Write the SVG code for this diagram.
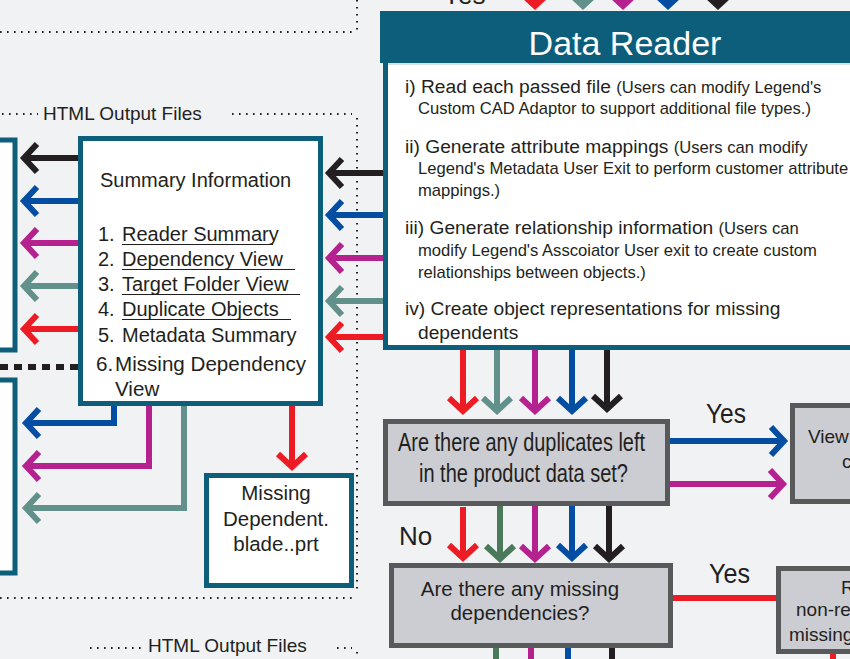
<svg xmlns="http://www.w3.org/2000/svg" width="850" height="659" viewBox="0 0 850 659">
<style>
text{font-family:"Liberation Sans",Arial,sans-serif;fill:#231f20}
.dot{fill:none;stroke:#231f20;stroke-width:2;stroke-dasharray:1.6 5.4}
.tbox{fill:#fff;stroke:#0d5e7b;stroke-width:5}
.gbox{fill:#cbcdd2;stroke:#58595b;stroke-width:5}
.ln{fill:none;stroke-width:6;stroke-linejoin:miter}
.r{stroke:#ed1c24}.t{stroke:#62918c}.m{stroke:#b5218f}.b{stroke:#034ea2}.k{stroke:#231f20}.g{stroke:#4a7a5a}
.big{font-size:19.2px}.sm{font-size:16.6px}
</style>
<defs>
<marker id="hr" markerUnits="userSpaceOnUse" orient="auto" markerWidth="40" markerHeight="40" refX="0" refY="0" viewBox="-20 -20 40 40" overflow="visible"><path d="M-13,-14 L0,0 L-13,14" fill="none" stroke="#ed1c24" stroke-width="6"/></marker>
<marker id="ht" markerUnits="userSpaceOnUse" orient="auto" markerWidth="40" markerHeight="40" refX="0" refY="0" viewBox="-20 -20 40 40" overflow="visible"><path d="M-13,-14 L0,0 L-13,14" fill="none" stroke="#62918c" stroke-width="6"/></marker>
<marker id="hm" markerUnits="userSpaceOnUse" orient="auto" markerWidth="40" markerHeight="40" refX="0" refY="0" viewBox="-20 -20 40 40" overflow="visible"><path d="M-13,-14 L0,0 L-13,14" fill="none" stroke="#b5218f" stroke-width="6"/></marker>
<marker id="hb" markerUnits="userSpaceOnUse" orient="auto" markerWidth="40" markerHeight="40" refX="0" refY="0" viewBox="-20 -20 40 40" overflow="visible"><path d="M-13,-14 L0,0 L-13,14" fill="none" stroke="#034ea2" stroke-width="6"/></marker>
<marker id="hk" markerUnits="userSpaceOnUse" orient="auto" markerWidth="40" markerHeight="40" refX="0" refY="0" viewBox="-20 -20 40 40" overflow="visible"><path d="M-13,-14 L0,0 L-13,14" fill="none" stroke="#231f20" stroke-width="6"/></marker>
<marker id="hg" markerUnits="userSpaceOnUse" orient="auto" markerWidth="40" markerHeight="40" refX="0" refY="0" viewBox="-20 -20 40 40" overflow="visible"><path d="M-13,-14 L0,0 L-13,14" fill="none" stroke="#4a7a5a" stroke-width="6"/></marker>
</defs>
<rect width="850" height="659" fill="#f1f2f4"/>

<g id="boundaries">
<path class="dot" d="M357,0 V30 M0,32 H355"/>
<path class="dot" d="M2,114 H38 M232,114 H352 M357,118 V590 M0,598 H355"/>
<path class="dot" d="M90,648 H145 M337,648 H352 M357,652 V659"/>
<text x="43" y="120" font-size="19">HTML Output Files</text>
<text x="148" y="652" font-size="19">HTML Output Files</text>
<text x="443" y="4" font-size="26">Yes</text>
</g>

<g id="connectors">
<line class="ln r" x1="535" y1="-40" x2="535" y2="6" marker-end="url(#hr)"/>
<line class="ln t" x1="583" y1="-40" x2="583" y2="6" marker-end="url(#ht)"/>
<line class="ln m" x1="623" y1="-40" x2="623" y2="6" marker-end="url(#hm)"/>
<line class="ln b" x1="668" y1="-40" x2="668" y2="6" marker-end="url(#hb)"/>
<line class="ln k" x1="718" y1="-40" x2="718" y2="6" marker-end="url(#hk)"/>
<line class="ln k" x1="386" y1="173" x2="329" y2="173" marker-end="url(#hk)"/>
<line class="ln b" x1="386" y1="215" x2="329" y2="215" marker-end="url(#hb)"/>
<line class="ln m" x1="386" y1="258" x2="329" y2="258" marker-end="url(#hm)"/>
<line class="ln t" x1="386" y1="301" x2="329" y2="301" marker-end="url(#ht)"/>
<line class="ln r" x1="386" y1="337" x2="329" y2="337" marker-end="url(#hr)"/>
<line class="ln k" x1="80" y1="158" x2="24" y2="158" marker-end="url(#hk)"/>
<line class="ln b" x1="80" y1="201" x2="24" y2="201" marker-end="url(#hb)"/>
<line class="ln m" x1="80" y1="243" x2="24" y2="243" marker-end="url(#hm)"/>
<line class="ln t" x1="80" y1="286" x2="24" y2="286" marker-end="url(#ht)"/>
<line class="ln r" x1="80" y1="329" x2="24" y2="329" marker-end="url(#hr)"/>
<line x1="0" y1="367" x2="78" y2="367" stroke="#231f20" stroke-width="6" stroke-dasharray="8 6"/>
<path class="ln b" d="M114,403 V423 H26" marker-end="url(#hb)"/>
<path class="ln m" d="M149,403 V466 H26" marker-end="url(#hm)"/>
<path class="ln t" d="M184,403 V508 H26" marker-end="url(#ht)"/>
<line class="ln r" x1="292" y1="403" x2="292" y2="467" marker-end="url(#hr)"/>
<line class="ln r" x1="463" y1="348" x2="463" y2="411" marker-end="url(#hr)"/>
<line class="ln t" x1="497" y1="348" x2="497" y2="411" marker-end="url(#ht)"/>
<line class="ln m" x1="535" y1="348" x2="535" y2="411" marker-end="url(#hm)"/>
<line class="ln b" x1="572" y1="348" x2="572" y2="411" marker-end="url(#hb)"/>
<line class="ln k" x1="607" y1="348" x2="607" y2="409" marker-end="url(#hk)"/>
<line class="ln b" x1="670" y1="441" x2="784" y2="441" marker-end="url(#hb)"/>
<line class="ln m" x1="670" y1="484" x2="783" y2="484" marker-end="url(#hm)"/>
<line class="ln r" x1="463" y1="507" x2="463" y2="558" marker-end="url(#hr)"/>
<line class="ln g" x1="500" y1="505" x2="500" y2="559" marker-end="url(#hg)"/>
<line class="ln m" x1="535" y1="505" x2="535" y2="559" marker-end="url(#hm)"/>
<line class="ln b" x1="572" y1="503" x2="572" y2="558" marker-end="url(#hb)"/>
<line class="ln k" x1="609" y1="505" x2="609" y2="559" marker-end="url(#hk)"/>
<line class="ln r" x1="673" y1="598" x2="778" y2="598"/>
<line class="ln g" x1="496" y1="648" x2="496" y2="665"/>
<line class="ln m" x1="531" y1="648" x2="531" y2="665"/>
<line class="ln b" x1="568" y1="648" x2="568" y2="665"/>
<line class="ln k" x1="612" y1="648" x2="612" y2="665"/>
<line class="ln r" x1="833" y1="654" x2="833" y2="665"/>
</g>

<g id="left-box-1"><rect class="tbox" x="-10" y="140" width="25" height="210"/></g>
<g id="left-box-2"><rect class="tbox" x="-10" y="380" width="25" height="193"/></g>

<g id="summary">
<rect class="tbox" x="80.5" y="138.5" width="240" height="265"/>
<text x="100" y="187" font-size="20">Summary Information</text>
<g font-size="20">
<text x="98" y="241">1.</text><text x="122" y="241">Reader Summary</text>
<text x="98" y="266">2.</text><text x="122" y="266">Dependency View</text>
<text x="98" y="291">3.</text><text x="122" y="291">Target Folder View</text>
<text x="98" y="316">4.</text><text x="122" y="316">Duplicate Objects</text>
<text x="98" y="342">5.</text><text x="122" y="342">Metadata Summary</text>
<text x="96" y="371" font-size="20.6">6.</text><text x="115" y="371" font-size="20.6">Missing Dependency</text>
<text x="115" y="396" font-size="20.6">View</text>
</g>
<path d="M122,244.5 H273 M122,269.5 H295 M122,294.5 H300 M122,319.5 H291" stroke="#231f20" stroke-width="1.2"/>
</g>

<g id="missing-dependent">
<rect class="tbox" x="206.5" y="475.5" width="145" height="110"/>
<g font-size="20.5" text-anchor="middle">
<text x="276" y="500">Missing</text>
<text x="276" y="526">Dependent.</text>
<text x="276" y="551">blade..prt</text>
</g>
</g>

<g id="data-reader">
<rect class="tbox" x="385.5" y="60" width="500" height="287.5"/>
<rect x="380" y="11" width="480" height="52" fill="#0d5e7b"/>
<line x1="388" y1="64" x2="850" y2="64" stroke="#c7d9e0" stroke-width="1.5"/>
<text x="625" y="55" font-size="34" text-anchor="middle" style="fill:#fff">Data Reader</text>
<text x="405" y="93"><tspan class="big">i) Read each passed file </tspan><tspan class="sm">(Users can modify Legend's</tspan></text>
<text x="418" y="114" class="sm">Custom CAD Adaptor to support additional file types.)</text>
<text x="405" y="153"><tspan class="big">ii) Generate attribute mappings </tspan><tspan class="sm">(Users can modify</tspan></text>
<text x="418" y="174" class="sm">Legend's Metadata User Exit to perform customer attribute</text>
<text x="418" y="196" class="sm">mappings.)</text>
<text x="405" y="234"><tspan class="big">iii) Generate relationship information </tspan><tspan class="sm">(Users can</tspan></text>
<text x="418" y="256" class="sm">modify Legend's Asscoiator User exit to create custom</text>
<text x="418" y="278" class="sm">relationships between objects.)</text>
<text x="405" y="315" class="big">iv) Create object representations for missing</text>
<text x="418" y="339" class="big">dependents</text>
</g>

<g id="duplicates-question">
<rect class="gbox" x="385.5" y="421.5" width="282" height="82"/>
<text x="398" y="451" font-size="25" textLength="247" lengthAdjust="spacingAndGlyphs">Are there any duplicates left</text>
<text x="419" y="482" font-size="25" textLength="209" lengthAdjust="spacingAndGlyphs">in the product data set?</text>
<text x="706" y="423" font-size="28" textLength="40" lengthAdjust="spacingAndGlyphs">Yes</text>
<text x="399" y="545" font-size="26">No</text>
</g>

<g id="view-duplicates">
<rect class="gbox" x="792.5" y="405.5" width="80" height="96"/>
<text x="808" y="443" font-size="19">View</text>
<text x="842" y="468" font-size="19">c</text>
</g>

<g id="missing-question">
<rect class="gbox" x="391.5" y="565.5" width="279" height="80"/>
<text x="520" y="596" font-size="20.5" text-anchor="middle">Are there any  missing</text>
<text x="520" y="620" font-size="20.5" text-anchor="middle">dependencies?</text>
<text x="709" y="583" font-size="28" textLength="41" lengthAdjust="spacingAndGlyphs">Yes</text>
</g>

<g id="resolve-missing">
<rect class="gbox" x="778.5" y="568.5" width="90" height="83"/>
<text x="841" y="594" font-size="19">R</text>
<text x="796" y="616" font-size="19">non-re</text>
<text x="789" y="641" font-size="19">missing</text>
</g>
</svg>
